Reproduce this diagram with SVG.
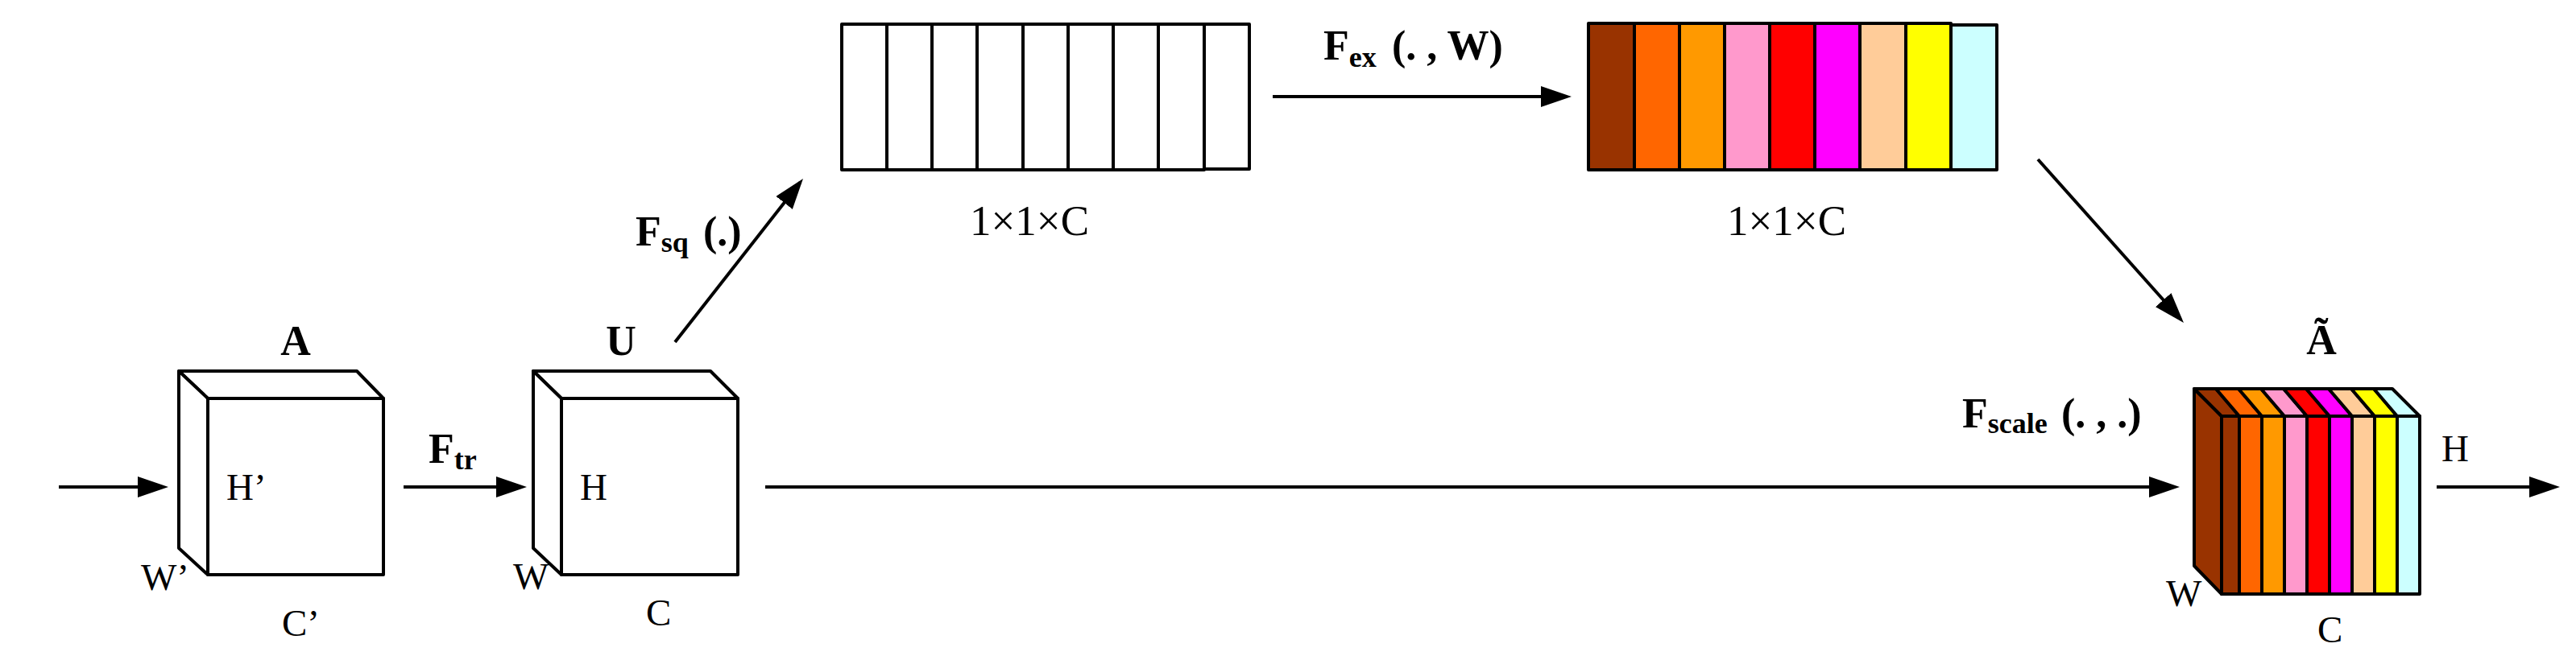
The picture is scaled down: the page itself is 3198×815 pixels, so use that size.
<svg xmlns="http://www.w3.org/2000/svg" width="3198" height="815" viewBox="0 0 3198 815">
<style>
.o{stroke:#000;stroke-width:4;stroke-linejoin:round}
.w{fill:#fff}
.ln{stroke:#000;stroke-width:4;fill:none}
.t{font-family:"Liberation Serif","Times New Roman",serif;fill:#000}
.n{font-size:47px}
.b{font-weight:bold;font-size:52px}
.s{font-weight:bold;font-size:36px}
.d{font-size:53px}
</style>
<defs>
<marker id="ah" markerUnits="userSpaceOnUse" markerWidth="40" markerHeight="28" refX="32" refY="13" orient="auto">
<path d="M0,0 L38,13 L0,26 Z" fill="#000"/>
</marker>
</defs>
<rect width="3198" height="815" fill="#fff"/>

<g id="connectors">
<line class="ln" x1="73" y1="605" x2="203" y2="605" marker-end="url(#ah)"/>
<line class="ln" x1="501" y1="605" x2="648" y2="605" marker-end="url(#ah)"/>
<line class="ln" x1="950" y1="605" x2="2700" y2="605" marker-end="url(#ah)"/>
<line class="ln" x1="3025" y1="605" x2="3172" y2="605" marker-end="url(#ah)"/>
<line class="ln" x1="838" y1="425" x2="993.3" y2="226.7" marker-end="url(#ah)"/>
<line class="ln" x1="1580" y1="120" x2="1945" y2="120" marker-end="url(#ah)"/>
<line class="ln" x1="2530" y1="198" x2="2707" y2="396.5" marker-end="url(#ah)"/>
<text class="t b" x="532" y="575">F<tspan class="s" dy="8">tr</tspan></text>
<text class="t b" x="789" y="305">F<tspan class="s" dy="8">sq</tspan><tspan x="873" dy="-8">(.)</tspan></text>
<text class="t b" x="1643" y="74" xml:space="preserve">F<tspan class="s" dy="9">ex</tspan><tspan x="1728" dy="-9">(. , W)</tspan></text>
<text class="t b" x="2436" y="531" xml:space="preserve">F<tspan class="s" dy="7">scale</tspan><tspan x="2559" dy="-7">(. , .)</tspan></text>
</g>

<g id="cubeA">
<path class="o w" d="M222,461 L443,461 L476,495 L258,495 Z"/>
<path class="o w" d="M222,461 L258,495 L258,714 L222,681 Z"/>
<rect class="o w" x="258" y="495" width="218" height="219"/>
<text class="t b" x="367" y="441" text-anchor="middle">A</text>
<text class="t n" x="281" y="621">H’</text>
<text class="t n" x="175" y="733">W’</text>
<text class="t n" x="350" y="790">C’</text>
</g>

<g id="cubeU">
<path class="o w" d="M662,461 L882,461 L916,495 L697,495 Z"/>
<path class="o w" d="M662,461 L697,495 L697,714 L662,681 Z"/>
<rect class="o w" x="697" y="495" width="219" height="219"/>
<text class="t b" x="771" y="441" text-anchor="middle">U</text>
<text class="t n" x="720" y="621">H</text>
<text class="t n" x="637" y="732">W</text>
<text class="t n" x="802" y="777">C</text>
</g>

<g id="squeeze">
<rect class="o w" x="1045" y="30" width="56" height="181"/>
<rect class="o w" x="1101" y="30" width="56" height="181"/>
<rect class="o w" x="1157" y="30" width="56" height="181"/>
<rect class="o w" x="1213" y="30" width="57" height="181"/>
<rect class="o w" x="1270" y="30" width="56" height="181"/>
<rect class="o w" x="1326" y="30" width="56" height="181"/>
<rect class="o w" x="1382" y="30" width="56" height="181"/>
<rect class="o w" x="1438" y="30" width="57" height="181"/>
<rect class="o w" x="1495" y="30" width="56" height="180"/>
<text class="t d" x="1278" y="292" text-anchor="middle">1×1×C</text>
</g>

<g id="excite">
<rect class="o" fill="#993300" x="1972" y="29" width="57" height="182"/>
<rect class="o" fill="#FF6600" x="2029" y="29" width="56" height="182"/>
<rect class="o" fill="#FF9900" x="2085" y="29" width="56" height="182"/>
<rect class="o" fill="#FF99CC" x="2141" y="29" width="56" height="182"/>
<rect class="o" fill="#FF0000" x="2197" y="29" width="56" height="182"/>
<rect class="o" fill="#FF00FF" x="2253" y="29" width="56" height="182"/>
<rect class="o" fill="#FFCC99" x="2309" y="29" width="57" height="182"/>
<rect class="o" fill="#FFFF00" x="2366" y="29" width="56" height="182"/>
<rect class="o" fill="#CCFFFF" x="2422" y="31" width="57" height="180"/>
<text class="t d" x="2218" y="292" text-anchor="middle">1×1×C</text>
</g>

<g id="cubeAtilde">
<path class="o" fill="#993300" d="M2724,483 L2758,517 L2758,738 L2724,703 Z"/>
<path class="o" fill="#993300" d="M2724,483 L2751,483 L2780,517 L2758,517 Z"/>
<path class="o" fill="#FF6600" d="M2751,483 L2779,483 L2808,517 L2780,517 Z"/>
<path class="o" fill="#FF9900" d="M2779,483 L2807,483 L2836,517 L2808,517 Z"/>
<path class="o" fill="#FF99CC" d="M2807,483 L2835,483 L2864,517 L2836,517 Z"/>
<path class="o" fill="#FF0000" d="M2835,483 L2863,483 L2892,517 L2864,517 Z"/>
<path class="o" fill="#FF00FF" d="M2863,483 L2891,483 L2920,517 L2892,517 Z"/>
<path class="o" fill="#FFCC99" d="M2891,483 L2919,483 L2948,517 L2920,517 Z"/>
<path class="o" fill="#FFFF00" d="M2919,483 L2947,483 L2976,517 L2948,517 Z"/>
<path class="o" fill="#CCFFFF" d="M2947,483 L2970,483 L3004,517 L2976,517 Z"/>
<rect class="o" fill="#993300" x="2758" y="517" width="22" height="221"/>
<rect class="o" fill="#FF6600" x="2780" y="517" width="28" height="221"/>
<rect class="o" fill="#FF9900" x="2808" y="517" width="28" height="221"/>
<rect class="o" fill="#FF99CC" x="2836" y="517" width="28" height="221"/>
<rect class="o" fill="#FF0000" x="2864" y="517" width="28" height="221"/>
<rect class="o" fill="#FF00FF" x="2892" y="517" width="28" height="221"/>
<rect class="o" fill="#FFCC99" x="2920" y="517" width="28" height="221"/>
<rect class="o" fill="#FFFF00" x="2948" y="517" width="28" height="221"/>
<rect class="o" fill="#CCFFFF" x="2976" y="517" width="28" height="221"/>
<text class="t b" x="2882" y="440" text-anchor="middle">Ã</text>
<text class="t n" x="3031" y="573">H</text>
<text class="t n" x="2689" y="753">W</text>
<text class="t n" x="2877" y="798">C</text>
</g>
</svg>
